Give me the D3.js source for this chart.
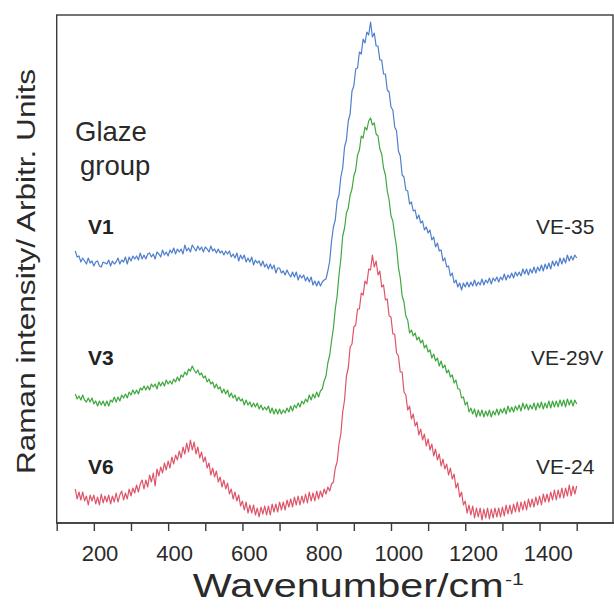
<!DOCTYPE html>
<html><head><meta charset="utf-8">
<script src="https://cdn.jsdelivr.net/npm/d3@7/dist/d3.min.js"></script>
<style>html,body{margin:0;padding:0;background:#fff;}svg{display:block;font-family:"Liberation Sans",Arial,sans-serif;}</style>
</head><body><svg id="c" width="614" height="612"></svg>
<script>
// Wavenumber grid (cm-1) at which the spectra were read
const wavenumber = d3.range(150, 1501, 5);
const tickValues = d3.range(100, 1501, 100);
const tickLabels = [200, 400, 600, 800, 1000, 1200, 1400];
const seriesNames = ["V1", "V3", "V6"];
const sampleNames = ["VE-35", "VE-29V", "VE-24"];

const v1 = [272,266,267,261,265,262,259,265,260,262,
257,261,262,257,256,261,260,259,263,257,
262,259,261,265,259,263,261,266,259,266,
262,267,264,267,263,270,264,268,264,269,
270,266,269,264,271,269,266,273,268,271,
267,273,270,275,269,274,271,274,269,278,
272,275,271,278,275,272,277,273,276,271,
276,274,271,277,272,274,270,274,270,272,
268,272,269,272,266,269,265,270,262,268,
264,268,261,265,261,266,258,263,260,262,
257,262,256,259,254,259,254,258,250,255,
255,250,252,248,253,249,246,251,246,251,
243,248,245,248,242,246,241,246,238,242,
237,242,237,241,243,244,252,262,282,296,
303,322,328,346,355,376,383,402,409,432,
437,454,455,471,469,484,480,491,488,501,
486,490,477,477,463,463,449,449,433,431,
416,413,396,392,372,367,348,346,333,332,
319,321,312,313,304,308,300,302,293,296,
290,293,283,286,276,280,272,273,262,265,
256,257,247,250,240,243,236,240,233,240,
236,241,236,241,237,243,237,241,238,244,
238,243,240,245,239,245,242,246,241,246,
243,249,243,248,245,250,245,251,247,251,
247,254,249,254,248,254,250,256,250,256,
252,258,252,259,254,260,254,262,257,262,
257,265,259,265,260,268,262,267,263,268,
265];

const v3 = [129,124,127,123,128,123,121,125,121,125,
119,122,117,122,118,122,117,122,117,123,
121,126,121,126,122,128,125,129,125,131,
128,133,129,133,129,135,133,137,133,137,
133,139,136,139,134,141,137,141,137,143,
139,142,139,144,141,146,142,148,146,151,
148,154,152,157,153,150,153,148,150,145,
147,141,144,139,141,135,139,134,136,130,
134,129,133,126,130,125,128,122,126,122,
124,118,123,118,121,116,120,116,120,114,
118,113,116,113,117,110,115,109,114,109,
114,109,113,110,115,111,117,112,118,115,
120,116,122,119,124,121,128,123,129,125,
131,126,132,134,142,147,160,168,182,195,
214,227,248,264,287,295,310,315,328,334,
347,353,368,373,387,385,396,393,402,405,
398,400,389,387,374,369,355,348,332,323,
307,302,288,276,256,245,227,221,207,203,
190,193,187,190,183,186,180,183,175,178,
171,173,165,169,162,165,157,162,155,158,
150,153,146,148,140,143,134,134,125,126,
118,121,111,115,109,114,106,113,107,113,
106,112,107,113,106,112,108,114,108,114,
110,115,109,117,111,116,111,117,113,118,
112,120,114,119,113,118,114,120,113,120,
115,121,114,120,115,122,115,122,116,122,
116,123,117,123,116,124,118,123,117,123,
119];

const v6 = [34,24,31,23,31,22,27,18,28,22,
28,19,26,18,29,20,27,21,28,19,
27,21,30,21,28,32,23,30,24,34,
27,35,30,38,31,39,43,34,43,36,
48,41,50,37,54,47,56,50,60,53,
62,55,66,59,68,63,72,65,76,69,
80,71,83,73,81,69,76,65,71,61,
66,55,60,48,55,46,52,41,46,36,
43,34,40,29,34,24,31,22,28,17,
22,13,21,10,18,10,18,8,15,6,
16,9,17,8,17,8,19,11,19,11,
21,13,21,13,23,16,24,16,26,18,
27,18,27,20,29,20,31,22,30,22,
32,24,32,26,34,29,36,32,39,41,
55,61,79,89,111,123,147,155,176,179,
196,198,214,214,230,228,242,239,254,253,
268,256,262,248,252,236,238,223,224,207,
206,189,189,170,167,151,151,131,128,113,
117,104,109,97,101,88,94,83,89,77,
84,73,79,67,74,63,69,57,64,54,
59,48,55,44,49,35,40,26,31,18,
22,10,18,8,17,5,15,6,15,3,
14,5,15,4,14,5,15,6,15,6,
16,7,18,9,18,9,19,11,21,11,
21,13,22,13,24,16,24,16,26,18,
27,18,29,21,29,21,31,23,33,23,
33,25,35,25,35,27,38,27,37,29,
37];

const colors = ["#4f7fcc", "#3fa83f", "#de5468"];
const allSeries = [v1, v3, v6];

const svg = d3.select("#c");
const mLeft = 56.7, mTop = 15, mBottom = 523, mRight = 613;
const x = d3.scaleLinear().domain([100, 1500]).range([mLeft, 576.7]);
const y = d3.scaleLinear().domain([0, 508]).range([mBottom, mTop]);
// tick labels sit slightly right of their ticks in the original
const xl = d3.scaleLinear().domain([200, 1400]).range([100, 548.3]);

// frame
svg.append("rect").attr("x", mLeft).attr("y", mTop).attr("width", mRight - mLeft).attr("height", mBottom - mTop)
  .attr("fill", "none").attr("stroke", "#3a3a3a").attr("stroke-width", 1.4);

// x axis
const ax = svg.append("g").attr("transform", `translate(0,${mBottom})`)
  .call(d3.axisBottom(x).tickValues(tickValues).tickSize(8).tickSizeOuter(0).tickFormat(""));
ax.select(".domain").attr("stroke", "#3a3a3a").attr("stroke-width", 1.4).attr("d", `M${mLeft},0H614`);
ax.selectAll(".tick line").attr("stroke", "#3a3a3a").attr("stroke-width", 1.4);

svg.append("g").selectAll("text").data(tickLabels).join("text")
  .attr("x", d => xl(d)).attr("y", 561).attr("text-anchor", "middle")
  .attr("font-size", 22).attr("fill", "#2a2a2a").text(d => d);

// spectra
const line = d3.line().x((d, i) => x(wavenumber[i])).y(d => y(d));
allSeries.forEach((s, k) => {
  svg.append("path").datum(s).attr("d", line).attr("fill", "none")
    .attr("stroke", colors[k]).attr("stroke-width", 1.2).attr("stroke-linejoin", "round");
});

// axis titles
svg.append("text").attr("transform", "translate(35,271.5) rotate(-90)")
  .attr("text-anchor", "middle").attr("font-size", 25).attr("fill", "#2a2a2a")
  .attr("textLength", 405).attr("lengthAdjust", "spacingAndGlyphs")
  .text("Raman intensity/ Arbitr. Units");
svg.append("text").attr("x", 192.7).attr("y", 596.5).attr("font-size", 32.5).attr("fill", "#2a2a2a")
  .attr("textLength", 311).attr("lengthAdjust", "spacingAndGlyphs").text("Wavenumber/cm");
svg.append("text").attr("x", 505).attr("y", 585).attr("font-size", 17).attr("fill", "#2a2a2a")
  .attr("textLength", 19).attr("lengthAdjust", "spacingAndGlyphs").text("-1");

// annotations
svg.append("text").attr("x", 75).attr("y", 141).attr("font-size", 27.5).attr("fill", "#2a2a2a").text("Glaze");
svg.append("text").attr("x", 80).attr("y", 174.5).attr("font-size", 27.5).attr("fill", "#2a2a2a").text("group");
const rowsY = [234, 365, 474];
const sampleX = [536, 531, 536];
seriesNames.forEach((n, k) => {
  svg.append("text").attr("x", 88).attr("y", rowsY[k]).attr("font-size", 21).attr("font-weight", "bold")
    .attr("fill", "#222").text(n);
  svg.append("text").attr("x", sampleX[k]).attr("y", rowsY[k]).attr("font-size", 21)
    .attr("fill", "#2a2a2a").text(sampleNames[k]);
});
</script></body></html>
